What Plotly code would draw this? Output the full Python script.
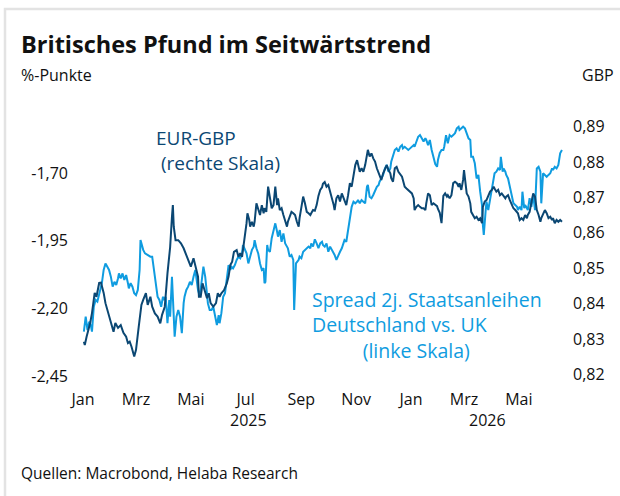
import pandas as pd
import plotly.graph_objects as go

# ---------------- data ----------------
# day offsets from 2025-01-01 and values
fx_days = [1,2,4,8,10,13,15,18,20,23,25,28,31,34,36,39,42,45,48,50,
           52,54,57,59,62,65,67,70,72,75,77,80,83,86,88,91,94,97,99,100,
           101,103,106,109,112,114,117,120,123,125,128,129,131,133,135,138,140,142,145,148,
           150,152,154,157,160,162,164,166,168,171,173,175,177,178,180,182,183,185,186,188,
           190,191,193,195,197,199,201,202,204,206,208,210,212,214,216,217,219,221,223,225,
           227,228,230,232,234,236,238,240,241,243,245,247,249,251,253,254,256,258,260,262,
           264,266,267,269,271,273,275,277,279,280,282,284,286,288,290,291,293,295,297,299,
           301,303,305,306,308,310,312,314,316,317,319,321,323,325,327,329,330,332,334,336,
           338,340,342,343,345,347,349,351,353,355,356,358,360,362,364,366,368,369,371,373,
           375,377,379,381,382,384,386,388,390,392,394,395,397,399,401,403,405,406,408,410,
           412,414,416,418,419,421,423,424,426,427,429,431,432,434,436,438,440,442,444,445,
           447,449,451,453,455,457,458,460,462,464,466,468,470,471,473,475,477,479,481,483,
           484,486,488,490,492,494,495,497,499,501,503,505,507,509,510,512,514,516,518,520,
           522,523,525,527,529,531,533]
eur_gbp = [0.8292,0.8283,0.8306,0.8345,0.8373,0.8430,0.8419,0.8458,0.8459,0.8430,
           0.8401,0.8373,0.8345,0.8320,0.8345,0.8331,0.8339,0.8317,0.8306,0.8288,
           0.8292,0.8278,0.8250,0.8269,0.8334,0.8396,0.8410,0.8429,0.8396,0.8419,
           0.8391,0.8372,0.8363,0.8344,0.8368,0.8391,0.8485,0.8560,0.8645,0.8678,
           0.8617,0.8579,0.8579,0.8570,0.8556,0.8542,0.8523,0.8504,0.8528,0.8504,
           0.8476,0.8419,0.8419,0.8457,0.8438,0.8415,0.8429,0.8401,0.8391,0.8401,
           0.8429,0.8419,0.8429,0.8438,0.8457,0.8476,0.8509,0.8518,0.8546,0.8551,
           0.8532,0.8542,0.8532,0.8551,0.8579,0.8627,0.8655,0.8636,0.8617,0.8631,
           0.8617,0.8631,0.8683,0.8669,0.8650,0.8678,0.8655,0.8669,0.8659,0.8730,
           0.8692,0.8669,0.8678,0.8730,0.8678,0.8697,0.8664,0.8669,0.8650,0.8636,
           0.8617,0.8631,0.8645,0.8659,0.8655,0.8650,0.8631,0.8617,0.8641,0.8669,
           0.8702,0.8683,0.8659,0.8655,0.8650,0.8655,0.8664,0.8662,0.8678,0.8704,
           0.8721,0.8728,0.8738,0.8743,0.8730,0.8735,0.8716,0.8702,0.8678,0.8664,
           0.8697,0.8706,0.8688,0.8711,0.8697,0.8692,0.8678,0.8706,0.8740,0.8730,
           0.8763,0.8791,0.8805,0.8791,0.8772,0.8782,0.8772,0.8791,0.8819,0.8834,
           0.8815,0.8824,0.8810,0.8801,0.8782,0.8768,0.8758,0.8749,0.8768,0.8782,
           0.8791,0.8777,0.8768,0.8754,0.8744,0.8782,0.8786,0.8772,0.8763,0.8758,
           0.8749,0.8730,0.8725,0.8721,0.8716,0.8711,0.8697,0.8664,0.8673,0.8678,
           0.8673,0.8669,0.8669,0.8664,0.8683,0.8711,0.8706,0.8678,0.8683,0.8678,
           0.8675,0.8667,0.8656,0.8627,0.8704,0.8711,0.8702,0.8706,0.8697,0.8706,
           0.8740,0.8744,0.8740,0.8730,0.8740,0.8721,0.8749,0.8777,0.8735,0.8711,
           0.8702,0.8683,0.8659,0.8650,0.8641,0.8645,0.8636,0.8641,0.8627,0.8673,
           0.8688,0.8692,0.8702,0.8716,0.8721,0.8730,0.8725,0.8716,0.8721,0.8706,
           0.8711,0.8702,0.8697,0.8702,0.8706,0.8692,0.8678,0.8669,0.8664,0.8659,
           0.8655,0.8636,0.8641,0.8636,0.8650,0.8641,0.8650,0.8659,0.8683,0.8711,
           0.8702,0.8664,0.8650,0.8631,0.8641,0.8655,0.8664,0.8655,0.8641,0.8645,
           0.8636,0.8641,0.8627,0.8636,0.8631,0.8636,0.8631]

spread_days = [1,2,3,5,7,9,10,12,14,16,19,21,23,25,26,29,31,33,35,37,
               39,40,42,44,46,48,50,51,53,55,57,59,61,63,64,65,67,69,72,75,
               77,79,81,83,85,87,89,90,92,94,96,97,99,100,101,102,104,106,108,110,
               112,113,115,117,119,121,123,125,126,128,130,132,134,136,138,139,141,143,145,147,
               149,151,152,154,156,158,160,162,164,165,167,169,171,173,175,177,178,180,182,184,
               186,188,190,191,193,195,197,199,201,202,203,205,206,208,210,212,214,216,217,219,
               221,223,225,227,228,230,232,234,235,237,238,240,241,243,245,247,249,251,253,254,
               256,258,260,262,264,266,267,269,271,273,275,277,279,280,282,284,286,288,290,291,
               293,295,297,299,301,303,305,306,308,310,312,314,316,317,319,321,323,325,327,329,
               330,332,334,336,338,340,342,343,345,347,349,351,353,355,356,358,360,362,364,366,
               368,369,371,373,375,377,379,381,382,384,386,388,390,392,394,395,397,399,401,402,
               404,405,406,408,410,412,414,416,418,419,421,423,425,427,429,431,432,434,436,438,
               440,442,444,445,446,448,449,451,453,455,457,458,460,462,464,465,467,468,470,471,
               473,475,477,479,481,483,484,486,488,489,491,492,494,495,497,499,501,503,505,507,
               509,510,512,514,516,518,520,522,523,525,527,529,531,533]
spread = [-2.286,-2.243,-2.231,-2.280,-2.249,-2.268,-2.286,-2.194,-2.169,-2.175,
          -2.132,-2.107,-2.058,-2.034,-2.040,-2.058,-2.083,-2.120,-2.102,-2.114,
          -2.089,-2.071,-2.089,-2.071,-2.095,-2.077,-2.107,-2.126,-2.107,-2.120,
          -2.144,-2.151,-2.132,-2.058,-1.948,-1.960,-1.984,-1.997,-2.003,-2.009,
          -2.009,-2.058,-2.107,-2.157,-2.169,-2.194,-2.157,-2.169,-2.157,-2.255,
          -2.169,-2.231,-2.083,-2.181,-2.280,-2.305,-2.231,-2.206,-2.231,-2.292,
          -2.181,-2.157,-2.132,-2.120,-2.102,-2.114,-2.083,-2.058,-2.083,-2.132,
          -2.157,-2.107,-2.046,-2.083,-2.157,-2.181,-2.206,-2.206,-2.194,-2.231,
          -2.262,-2.225,-2.255,-2.218,-2.157,-2.144,-2.083,-2.040,-2.058,-2.046,
          -2.052,-2.040,-2.021,-2.009,-2.015,-1.997,-1.966,-1.984,-1.997,-2.034,
          -2.009,-1.984,-1.972,-1.948,-1.978,-1.997,-2.034,-2.058,-2.052,-2.107,
          -2.102,-1.966,-1.984,-1.991,-1.941,-1.911,-1.886,-1.917,-1.935,-1.911,
          -1.954,-1.923,-1.960,-1.972,-1.978,-2.009,-2.003,-2.021,-2.206,-2.034,
          -2.028,-2.021,-2.009,-2.015,-1.991,-1.984,-1.978,-1.972,-1.978,-1.960,
          -1.972,-1.945,-1.960,-1.978,-1.960,-1.954,-1.966,-1.972,-1.960,-1.991,
          -1.972,-1.984,-1.997,-2.003,-2.021,-2.003,-1.991,-1.978,-1.960,-1.948,
          -1.954,-1.911,-1.861,-1.825,-1.806,-1.812,-1.806,-1.800,-1.812,-1.800,
          -1.806,-1.812,-1.751,-1.744,-1.788,-1.793,-1.781,-1.763,-1.751,-1.744,
          -1.732,-1.720,-1.707,-1.683,-1.670,-1.695,-1.683,-1.658,-1.640,-1.615,
          -1.609,-1.621,-1.603,-1.597,-1.609,-1.603,-1.609,-1.615,-1.609,-1.603,
          -1.597,-1.603,-1.584,-1.566,-1.560,-1.572,-1.584,-1.572,-1.578,-1.597,
          -1.578,-1.615,-1.646,-1.667,-1.677,-1.652,-1.626,-1.615,-1.615,-1.603,
          -1.560,-1.584,-1.590,-1.560,-1.566,-1.560,-1.553,-1.535,-1.529,-1.541,
          -1.535,-1.529,-1.535,-1.553,-1.572,-1.578,-1.640,-1.640,-1.664,-1.720,
          -1.707,-1.769,-1.818,-1.892,-1.929,-1.843,-1.806,-1.837,-1.793,-1.751,
          -1.714,-1.701,-1.695,-1.683,-1.689,-1.640,-1.695,-1.683,-1.695,-1.707,
          -1.720,-1.751,-1.775,-1.812,-1.818,-1.825,-1.837,-1.825,-1.837,-1.769,
          -1.830,-1.818,-1.830,-1.837,-1.793,-1.825,-1.781,-1.837,-1.683,-1.677,
          -1.695,-1.812,-1.701,-1.707,-1.714,-1.707,-1.701,-1.683,-1.689,-1.677,
          -1.683,-1.670,-1.627,-1.615]

month_ticks = ["2025-01-01", "2025-03-01", "2025-05-01", "2025-07-01", "2025-09-01",
               "2025-11-01", "2026-01-01", "2026-03-01", "2026-05-01"]
month_labels = ["Jan", "Mrz", "Mai", "Jul", "Sep", "Nov", "Jan", "Mrz", "Mai"]
left_ticks = [-2.45, -2.20, -1.95, -1.70]
left_labels = ["-2,45", "-2,20", "-1,95", "-1,70"]
right_ticks = [0.82, 0.83, 0.84, 0.85, 0.86, 0.87, 0.88, 0.89]
right_labels = ["0,82", "0,83", "0,84", "0,85", "0,86", "0,87", "0,88", "0,89"]

assert len(fx_days) == len(eur_gbp), (len(fx_days), len(eur_gbp))
assert len(spread_days) == len(spread), (len(spread_days), len(spread))

base = pd.Timestamp("2025-01-01")
fx_dates = base + pd.to_timedelta(fx_days, unit="D")
spread_dates = base + pd.to_timedelta(spread_days, unit="D")

# ---------------- style ----------------
DARK = "#0b4773"
LIGHT = "#0f9ce0"
TXT = "#111111"
FONT = "Open Sans"
NB = "\u00a0"
W, H = 620, 496
ML, MR, MT, MB = 80, 54, 120, 116
PW, PH = W - ML - MR, H - MT - MB


def px(x):
    return (x - ML) / PW


def py(y):
    return (H - MB - y) / PH


fig = go.Figure()
fig.add_trace(go.Scatter(x=spread_dates, y=spread, mode="lines", yaxis="y",
                         line=dict(color=LIGHT, width=2), hoverinfo="skip",
                         showlegend=False))
fig.add_trace(go.Scatter(x=fx_dates, y=eur_gbp, mode="lines", yaxis="y2",
                         line=dict(color=DARK, width=2), hoverinfo="skip",
                         showlegend=False))

ann = []


def text(x, y, s, size=15, color=TXT, anchor="left", bold=False):
    ann.append(dict(x=px(x), y=py(y), xref="paper", yref="paper", text=s,
                    showarrow=False, xanchor=anchor, yanchor="middle",
                    align="left", borderpad=0, borderwidth=0,
                    font=dict(family=FONT, size=size, color=color,
                              weight="bold" if bold else "normal")))


text(21, 44, "Britisches Pfund im Seitwärtstrend", size=23.5, bold=True)
text(21, 75, "%-Punkte", size=16)
text(614, 75, "GBP", size=16, anchor="right")
text(156, 150, "EUR-GBP<br>" + NB + "(rechte Skala)", size=19, color=DARK)
text(312, 325, "Spread 2j. Staatsanleihen<br>Deutschland vs. UK<br>"
     + NB * 10 + "(linke Skala)", size=19.5, color=LIGHT)
text(248, 420, "2025", size=16, anchor="center")
text(487, 420, "2026", size=16, anchor="center")
text(21, 473, "Quellen: Macrobond, Helaba Research", size=15.5)

fig.update_layout(
    width=W, height=H,
    margin=dict(l=ML, r=MR, t=MT, b=MB, pad=0),
    paper_bgcolor="white", plot_bgcolor="white",
    font=dict(family=FONT, size=16, color=TXT),
    annotations=ann,
    shapes=[dict(type="rect", xref="paper", yref="paper",
                 x0=px(5), x1=px(720), y0=py(620), y1=py(9),
                 line=dict(color="#e3e3e3", width=2.5), fillcolor="rgba(0,0,0,0)",
                 layer="below")],
    xaxis=dict(type="date", range=["2024-12-28 16:00", "2026-06-22 12:00"],
               tickvals=month_ticks, ticktext=month_labels, showgrid=False,
               zeroline=False, showline=False, ticks="", ticklabelstandoff=8,
               tickfont=dict(size=16)),
    yaxis=dict(range=[-2.4647, -1.5042], tickvals=left_ticks, ticktext=left_labels,
               showgrid=False, zeroline=False, showline=False, ticks="",
               ticklabelstandoff=11, tickfont=dict(size=16)),
    yaxis2=dict(range=[0.81839, 0.89184], tickvals=right_ticks, ticktext=right_labels,
                overlaying="y", side="right", showgrid=False, zeroline=False,
                showline=False, ticks="", ticklabelstandoff=6,
                tickfont=dict(size=16)),
)

fig.write_html("out.html", config={"displayModeBar": False},
               post_script="document.body.style.margin='0px';document.body.style.padding='0px';")
